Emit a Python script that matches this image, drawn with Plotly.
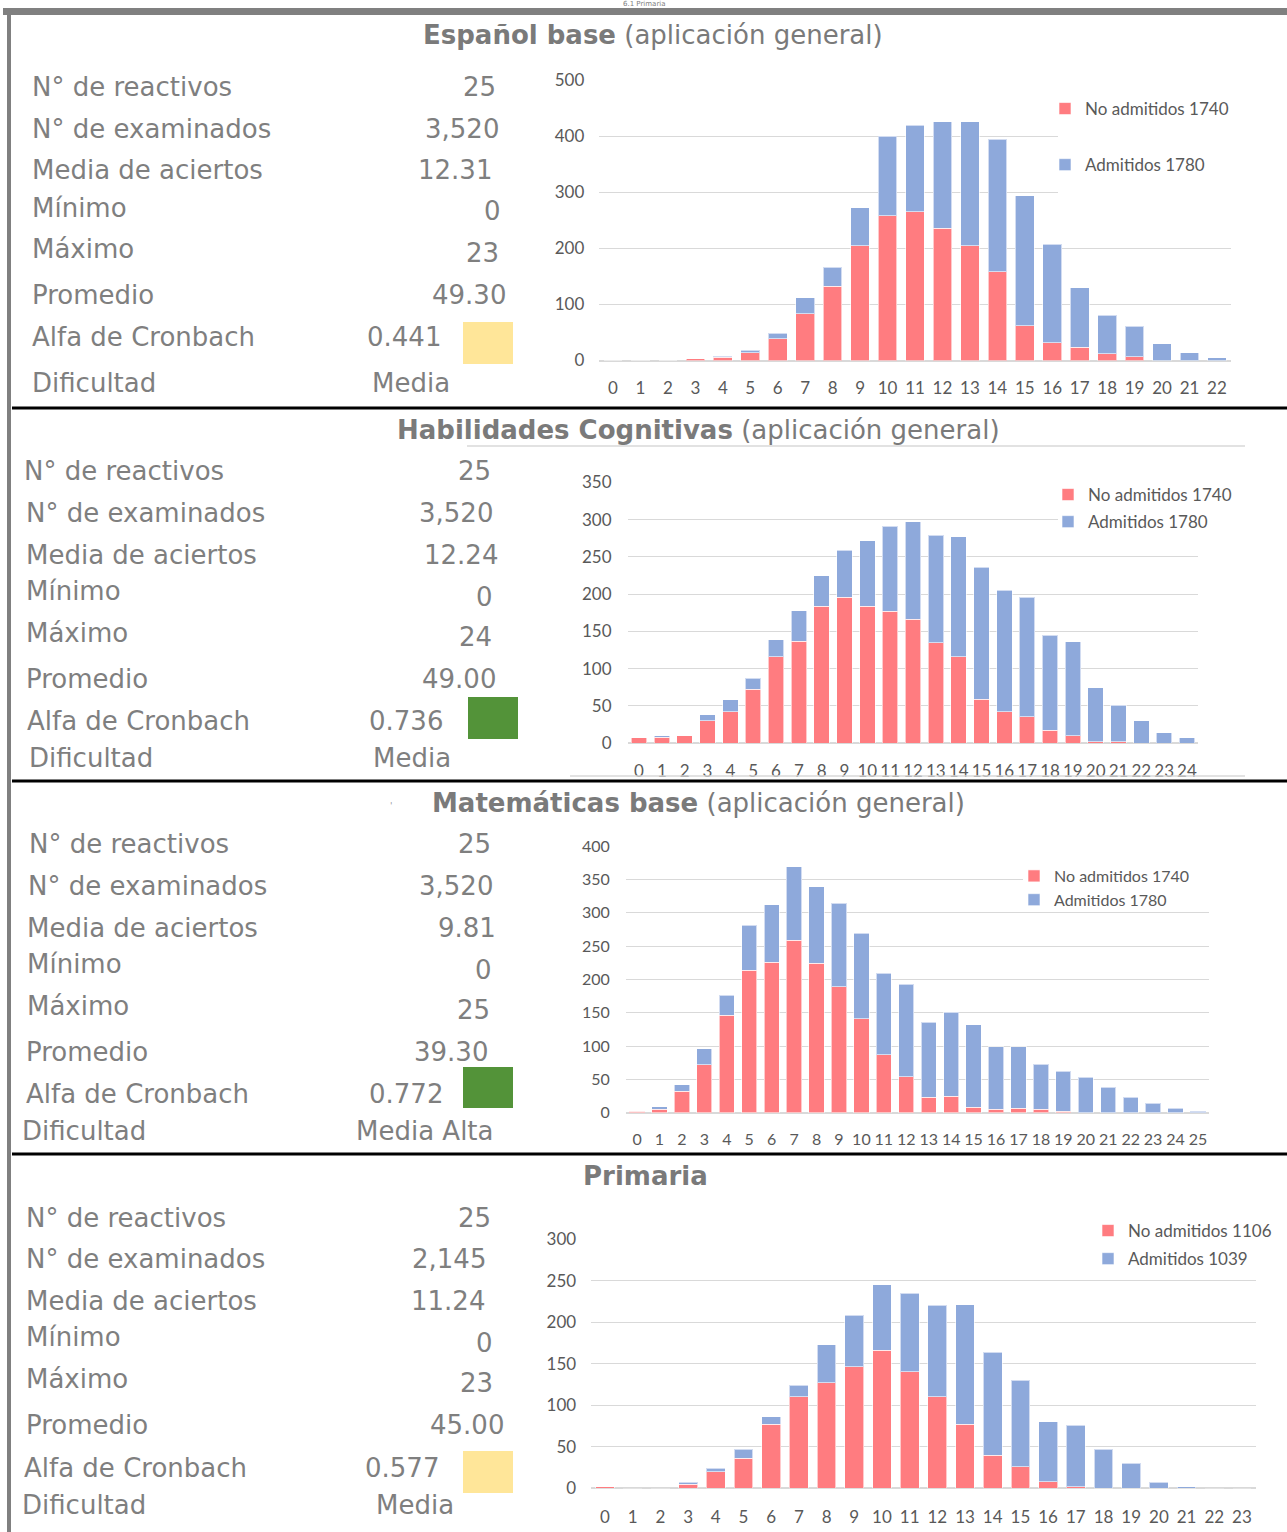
import plotly.graph_objects as go

W, H = 1287, 1532

def X(px):
    return px / W

def Y(py):
    return 1 - py / H

# ---------------- data ----------------
esp_scores = list(range(0, 23))
esp_no  = [0, 0, 0, 3, 6, 14, 39, 83, 132, 205, 258, 265, 236, 205, 158, 62, 32, 24, 12, 7, 0, 0, 0]
esp_adm = [0, 0, 0, 0, 2, 4, 10, 29, 34, 67, 142, 154, 190, 221, 236, 232, 175, 106, 69, 54, 30, 14, 5]

hab_scores = list(range(0, 25))
hab_no  = [7, 8, 10, 30, 42, 72, 116, 137, 184, 196, 184, 177, 166, 135, 116, 59, 42, 35, 17, 10, 2, 2, 0, 0, 0]
hab_adm = [0, 2, 0, 8, 16, 15, 23, 41, 41, 63, 88, 114, 131, 144, 161, 177, 163, 161, 128, 126, 72, 49, 30, 14, 7]

mat_scores = list(range(0, 26))
mat_no  = [2, 5, 32, 72, 146, 214, 226, 259, 224, 189, 141, 87, 54, 23, 25, 8, 5, 7, 5, 2, 0, 0, 0, 0, 0, 0]
mat_adm = [0, 4, 10, 24, 30, 67, 86, 110, 115, 125, 128, 122, 139, 113, 126, 124, 94, 92, 68, 60, 53, 38, 23, 14, 7, 2]

pri_scores = list(range(0, 24))
pri_no  = [2, 0, 0, 5, 20, 36, 77, 110, 127, 146, 166, 140, 110, 77, 40, 26, 8, 2, 0, 0, 0, 0, 0, 0]
pri_adm = [0, 0, 0, 2, 4, 11, 9, 14, 46, 62, 79, 95, 110, 144, 124, 104, 72, 74, 47, 30, 7, 2, 0, 0]

legend_names = [
    ("No admitidos 1740", "Admitidos 1780"),
    ("No admitidos 1740", "Admitidos 1780"),
    ("No admitidos 1740", "Admitidos 1780"),
    ("No admitidos 1106", "Admitidos 1039"),
]

titles_bold = ["Español base", "Habilidades Cognitivas", "Matemáticas base", "Primaria"]
titles_rest = [" (aplicación general)", " (aplicación general)", " (aplicación general)", ""]

stat_labels = ["N° de reactivos", "N° de examinados", "Media de aciertos", "Mínimo",
               "Máximo", "Promedio", "Alfa de Cronbach", "Dificultad"]
esp_stats = ["25", "3,520", "12.31", "0", "23", "49.30", "0.441", "Media"]
hab_stats = ["25", "3,520", "12.24", "0", "24", "49.00", "0.736", "Media"]
mat_stats = ["25", "3,520", "9.81", "0", "25", "39.30", "0.772", "Media Alta"]
pri_stats = ["25", "2,145", "11.24", "0", "23", "45.00", "0.577", "Media"]
alpha_colors = ["#FFE699", "#539339", "#539339", "#FFE699"]

RED = "#FF7C80"
BLUE = "#8EA9DB"
TICK = "#595959"
TXT = "#7F7F7F"
TFONT = "DejaVu Sans"

# ---------------- layout geometry (pixels) ----------------
charts = [
    dict(scores=esp_scores, no=esp_no, adm=esp_adm, ymax=500, dtick=100,
         x0=599.3, x1=1230.7, yb=360.5, yt=80, fs=17, ysd=14, xsd=15,
         leg=(1045, 91), gap=31, cover=(1058, 1236, 74, 200)),
    dict(scores=hab_scores, no=hab_no, adm=hab_adm, ymax=350, dtick=50,
         x0=627.6, x1=1198.4, yb=743, yt=482.5, fs=17, ysd=15, xsd=16,
         leg=(1048, 477), gap=2, cover=(1058, 1202, 476, 530)),
    dict(scores=mat_scores, no=mat_no, adm=mat_adm, ymax=400, dtick=50,
         x0=625.8, x1=1209.2, yb=1112.7, yt=846, fs=16, ysd=15, xsd=15,
         leg=(1014, 859), gap=0, cover=(1023, 1212, 860, 906)),
    dict(scores=pri_scores, no=pri_no, adm=pri_adm, ymax=300, dtick=50,
         x0=591.2, x1=1255.8, yb=1488.3, yt=1239, fs=17, ysd=14, xsd=17,
         leg=(1088, 1213), gap=3, cover=(1098, 1260, 1218, 1274)),
]

fig = go.Figure()
layout = dict(
    width=W, height=H, margin=dict(l=0, r=0, t=0, b=0, autoexpand=False),
    paper_bgcolor="white", plot_bgcolor="rgba(0,0,0,0)",
    barmode="stack", bargap=0.32,
    font=dict(family="Lato", color=TICK),
)

shapes = []
for i, c in enumerate(charts):
    k = "" if i == 0 else str(i + 1)
    leg = "legend" if i == 0 else "legend" + str(i + 1)
    n0, n1 = legend_names[i]
    fig.add_trace(go.Bar(x=c["scores"], y=c["no"], name=n0, marker_color=RED,
                         marker_line=dict(color="rgba(255,255,255,0.6)", width=1),
                         xaxis="x" + k, yaxis="y" + k, legend=leg, legendgroup=f"a{i}"))
    fig.add_trace(go.Bar(x=c["scores"], y=c["adm"], name=n1, marker_color=BLUE,
                         marker_line=dict(color="rgba(255,255,255,0.6)", width=1),
                         xaxis="x" + k, yaxis="y" + k, legend=leg, legendgroup=f"b{i}"))
    layout["xaxis" + k] = dict(
        domain=[X(c["x0"]), X(c["x1"])], anchor="y" + k,
        range=[-0.5, len(c["scores"]) - 0.5], tickmode="linear", tick0=0, dtick=1,
        showgrid=False, zeroline=False, showline=False, ticks="",
        tickfont=dict(size=c["fs"], color=TICK, family="Lato"),
        ticklabelstandoff=c["xsd"], fixedrange=True,
    )
    layout["yaxis" + k] = dict(
        domain=[Y(c["yb"]), Y(c["yt"])], anchor="x" + k,
        range=[0, c["ymax"]], dtick=c["dtick"], tick0=0,
        showgrid=True, gridcolor="#D9D9D9", gridwidth=1,
        zeroline=True, zerolinecolor="#D9D9D9", zerolinewidth=1.5,
        showline=False, ticks="",
        tickfont=dict(size=c["fs"], color=TICK, family="Lato"),
        ticklabelstandoff=c["ysd"], fixedrange=True,
    )
    layout[leg] = dict(
        x=X(c["leg"][0]), y=Y(c["leg"][1]), xanchor="left", yanchor="top",
        bgcolor="rgba(0,0,0,0)", font=dict(size=c["fs"], color=TICK, family="Lato"),
        traceorder="grouped", tracegroupgap=c["gap"], itemclick=False,
    )
    cx0, cx1, cy0, cy1 = c["cover"]
    # white area behind the legend (hides the gridlines there, as in the source image)
    shapes.append(dict(type="rect", xref="paper", yref="paper", layer="above",
                       x0=X(cx0), x1=X(cx1), y0=Y(cy1), y1=Y(cy0),
                       fillcolor="white", line=dict(width=0)))

fig.update_layout(**layout)

# ---------------- frame shapes ----------------
shapes.append(dict(type="rect", xref="paper", yref="paper", x0=X(3), x1=1, y0=Y(15), y1=Y(8),
                   fillcolor="#808080", line=dict(width=0)))
shapes.append(dict(type="line", xref="paper", yref="paper", x0=X(9), x1=X(9), y0=0, y1=Y(8),
                   line=dict(color="#808080", width=4)))
for yy in [408, 781, 1154]:
    shapes.append(dict(type="line", xref="paper", yref="paper", x0=X(12), x1=1, y0=Y(yy), y1=Y(yy),
                       line=dict(color="black", width=3)))
# faint chart borders in panel 2
shapes.append(dict(type="line", xref="paper", yref="paper", x0=X(467), x1=X(1245), y0=Y(446), y1=Y(446),
                   line=dict(color="#D9D9D9", width=1.5)))
shapes.append(dict(type="line", xref="paper", yref="paper", x0=X(570), x1=X(1245), y0=Y(776), y1=Y(776),
                   line=dict(color="#D9D9D9", width=1.5)))

# ---------------- text ----------------
ann = []
ann.append(dict(text="6.1 Primaria", x=X(644), y=Y(4), xref="paper", yref="paper",
                xanchor="center", yanchor="middle", showarrow=False,
                font=dict(family=TFONT, size=7, color="#808080")))

title_pos = [(653, 35), (698, 430), (698, 803), (646, 1176)]
for i in range(4):
    t = f"<b>{titles_bold[i]}</b>{titles_rest[i]}"
    ann.append(dict(text=t, x=X(title_pos[i][0]), y=Y(title_pos[i][1]), xref="paper", yref="paper",
                    xanchor="center", yanchor="middle", showarrow=False,
                    font=dict(family=TFONT, size=26, color="#7A7A7A")))
ann.append(dict(text="'", x=X(388), y=Y(806), xref="paper", yref="paper", showarrow=False,
                font=dict(family=TFONT, size=9, color="#999999")))

panels = [
    dict(stats=esp_stats,
         lx=[30] * 8,
         ly=[87, 129, 170, 208, 249, 295, 337, 383],
         vy=[87, 129, 170, 211, 253, 295, 337, 383],
         vr=[498, 501, 494, 503, 501, 508, 443], dl=370, box=(463, 513, 322, 364)),
    dict(stats=hab_stats,
         lx=[22, 24, 24, 24, 24, 24, 25, 27],
         ly=[471, 513, 555, 591, 633, 679, 721, 758],
         vy=[471, 513, 555, 597, 637, 679, 721, 758],
         vr=[493, 495, 500, 495, 494, 498, 445], dl=371, box=(468, 518, 697, 739)),
    dict(stats=mat_stats,
         lx=[27, 26, 25, 25, 25, 24, 24, 20],
         ly=[844, 886, 928, 964, 1006, 1052, 1094, 1131],
         vy=[844, 886, 928, 970, 1010, 1052, 1094, 1131],
         vr=[493, 495, 498, 494, 492, 490, 445], dl=354, box=(463, 513, 1067, 1108)),
    dict(stats=pri_stats,
         lx=[24, 24, 24, 24, 24, 24, 22, 20],
         ly=[1218, 1259, 1301, 1337, 1379, 1425, 1468, 1505],
         vy=[1218, 1259, 1301, 1343, 1383, 1425, 1468, 1505],
         vr=[493, 488, 487, 495, 495, 506, 441], dl=374, box=(463, 513, 1451, 1493)),
]

FS = 26
for p_i, p in enumerate(panels):
    for r, lab in enumerate(stat_labels):
        ann.append(dict(text=lab, x=X(p["lx"][r]), y=Y(p["ly"][r]), xref="paper", yref="paper",
                        xanchor="left", yanchor="middle", showarrow=False,
                        font=dict(family=TFONT, size=FS, color=TXT)))
    for r in range(7):
        ann.append(dict(text=p["stats"][r], x=X(p["vr"][r]), y=Y(p["vy"][r]), xref="paper", yref="paper",
                        xanchor="right", yanchor="middle", showarrow=False,
                        font=dict(family=TFONT, size=FS, color=TXT)))
    ann.append(dict(text=p["stats"][7], x=X(p["dl"]), y=Y(p["vy"][7]), xref="paper", yref="paper",
                    xanchor="left", yanchor="middle", showarrow=False,
                    font=dict(family=TFONT, size=FS, color=TXT)))
    bx0, bx1, by0, by1 = p["box"]
    shapes.append(dict(type="rect", xref="paper", yref="paper", x0=X(bx0), x1=X(bx1),
                       y0=Y(by1), y1=Y(by0), fillcolor=alpha_colors[p_i], line=dict(width=0)))

fig.update_layout(shapes=shapes, annotations=ann)
fig.write_html("out.html",
               config={"displayModeBar": False},
               post_script="document.body.style.margin='0';document.body.style.overflow='hidden';")
